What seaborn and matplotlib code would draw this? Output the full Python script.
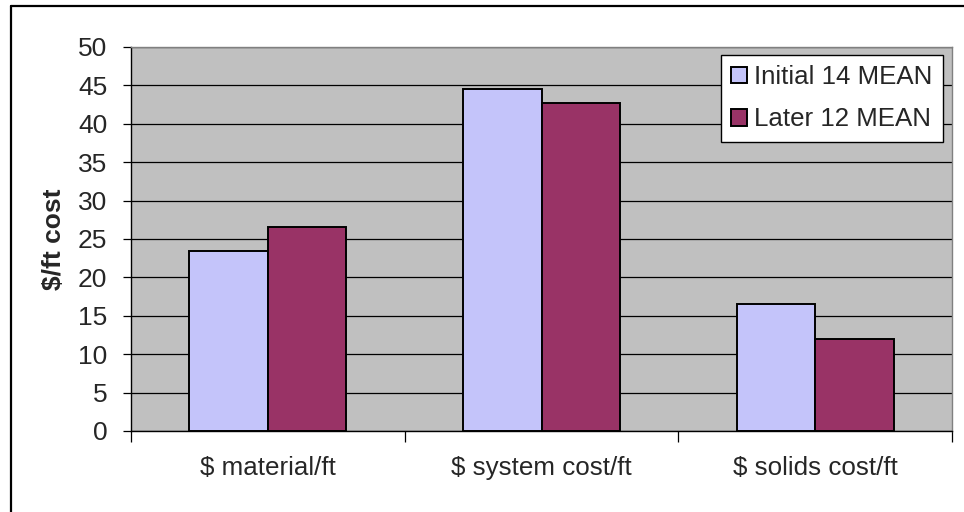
import matplotlib
matplotlib.use("Agg")
import matplotlib.pyplot as plt
from matplotlib.lines import Line2D
from matplotlib.ticker import FixedLocator
import seaborn as sns
import pandas as pd

# Mean cost per foot, two sample groups
categories = ["$ material/ft", "$ system cost/ft", "$ solids cost/ft"]
series_names = ["Initial 14 MEAN", "Later 12 MEAN"]
initial_mean = [23.5, 44.5, 16.5]
later_mean = [26.6, 42.7, 12.0]
y_ticks = [0, 5, 10, 15, 20, 25, 30, 35, 40, 45, 50]

sns.set_style("white")
plt.rcParams["font.family"] = ["Liberation Sans", "DejaVu Sans"]

df = pd.DataFrame({
    "category": categories * 2,
    "series": [series_names[0]] * 3 + [series_names[1]] * 3,
    "value": initial_mean + later_mean,
})

W, H = 964, 512
fig = plt.figure(figsize=(W / 100, H / 100), dpi=100)
fig.patch.set_facecolor("white")
ax = fig.add_axes([131 / W, 1 - 431 / H, (952 - 131) / W, (431 - 47) / H])
ax.set_facecolor("#C0C0C0")

sns.barplot(
    data=df, x="category", y="value", hue="series",
    order=categories, hue_order=series_names,
    palette=["#C4C4FA", "#993366"], saturation=1,
    width=0.574, errorbar=None, edgecolor="black", linewidth=1.4,
    ax=ax, zorder=3,
)

# axis limits and gridlines
ax.set_xlim(-0.5, len(categories) - 0.5)
ax.set_ylim(y_ticks[0], y_ticks[-1])
ax.yaxis.set_major_locator(FixedLocator(y_ticks))
ax.set_yticklabels([str(t) for t in y_ticks])
ax.grid(axis="y", color="black", linewidth=0.9, zorder=1)
ax.grid(axis="x", visible=False)
ax.set_axisbelow(True)

# tick marks: y ticks outward, x ticks at category boundaries
ax.tick_params(axis="y", which="major", direction="out", length=6, width=0.9,
               color="black", labelsize=19, pad=11, left=True)
ax.tick_params(axis="x", which="major", length=0, labelsize=18.7, pad=18)
ax.xaxis.set_minor_locator(FixedLocator([-0.5, 0.5, 1.5, 2.5]))
ax.tick_params(axis="x", which="minor", direction="out", length=8, width=0.9,
               color="black", bottom=True)

for side in ("left", "bottom"):
    ax.spines[side].set_color("black")
    ax.spines[side].set_linewidth(1.0)
for side in ("top", "right"):
    ax.spines[side].set_visible(True)
    ax.spines[side].set_color("#808080")
    ax.spines[side].set_linewidth(1.0)

ax.set_xlabel("")
ax.set_ylabel("$/ft cost", fontsize=19, fontweight="bold", labelpad=9)

# legend box in the upper right corner of the plot area
handles, labels = ax.get_legend_handles_labels()
leg = ax.legend(
    handles, labels, loc="upper right",
    bbox_to_anchor=(943 / W, 1 - 55 / H), bbox_transform=fig.transFigure,
    fontsize=18.6, frameon=True, fancybox=False, shadow=False, framealpha=1,
    handlelength=0.6, handleheight=0.6, handletextpad=0.3,
    borderpad=0.4, labelspacing=0.7, borderaxespad=0,
)
leg.get_frame().set_edgecolor("black")
leg.get_frame().set_linewidth(1.0)
leg.get_frame().set_facecolor("white")

# outer chart border (left and top edges)
fig.add_artist(Line2D([10.5 / W, 10.5 / W], [0, 1 - 6 / H], color="black",
                      linewidth=1.6, transform=fig.transFigure))
fig.add_artist(Line2D([10.5 / W, 1], [1 - 6 / H, 1 - 6 / H], color="black",
                      linewidth=1.6, transform=fig.transFigure))

fig.savefig("out.png", dpi=100)
